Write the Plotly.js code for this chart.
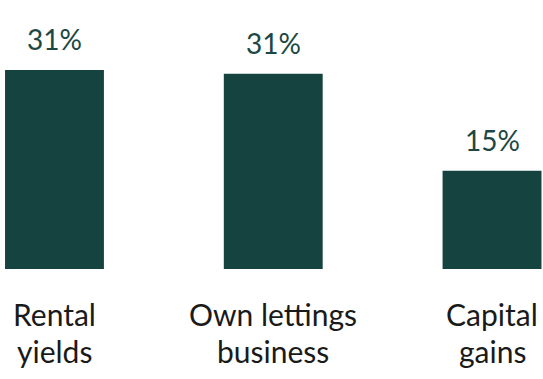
<!DOCTYPE html>
<html>
<head>
<meta charset="utf-8">
<script src="https://cdn.plot.ly/plotly-3.0.1.min.js"></script>
<style>html,body{margin:0;padding:0;background:#fff;}#chart{width:543px;height:379px;}</style>
</head>
<body>
<div id="chart"></div>
<script>
const categories = ["Rental yields", "Own lettings business", "Capital gains"];
const labelLine1 = ["Rental", "Own lettings", "Capital"];
const labelLine2 = ["yields", "business", "gains"];
const values = [31.0, 30.4, 15.3];
const valueLabels = ["31%", "31%", "15%"];

const FONT = "Lato, 'Open Sans', sans-serif";
const barColor = "#15433f";
const trace = {
  type: "bar",
  x: categories,
  y: values,
  marker: {color: barColor},
  hoverinfo: "skip"
};

const annotations = [];
categories.forEach((c, i) => {
  annotations.push({
    x: c, y: values[i], text: valueLabels[i],
    xref: "x", yref: "y", showarrow: false,
    yanchor: "bottom", yshift: 12,
    font: {family: FONT, size: 28, color: "#1d4743"}
  });
  annotations.push({
    x: c, y: 0, text: labelLine1[i],
    xref: "x", yref: "paper", showarrow: false,
    yanchor: "top", yshift: -25,
    font: {family: FONT, size: 30, color: "#1a1a1a"}
  });
  annotations.push({
    x: c, y: 0, text: labelLine2[i],
    xref: "x", yref: "paper", showarrow: false,
    yanchor: "top", yshift: -62,
    font: {family: FONT, size: 30, color: "#1a1a1a"}
  });
});

const layout = {
  width: 543, height: 379,
  margin: {l: 0, r: 0, t: 0, b: 110, pad: 0},
  paper_bgcolor: "#ffffff", plot_bgcolor: "#ffffff",
  showlegend: false,
  bargap: 0.548,
  xaxis: {
    type: "category",
    range: [-0.249, 2.233],
    showgrid: false, zeroline: false, showline: false,
    ticks: "", showticklabels: false
  },
  yaxis: {
    range: [0, 41.9],
    visible: false, showgrid: false, zeroline: false
  },
  annotations: annotations
};

Plotly.newPlot("chart", [trace], layout, {displayModeBar: false, staticPlot: true});
</script>
</body>
</html>
